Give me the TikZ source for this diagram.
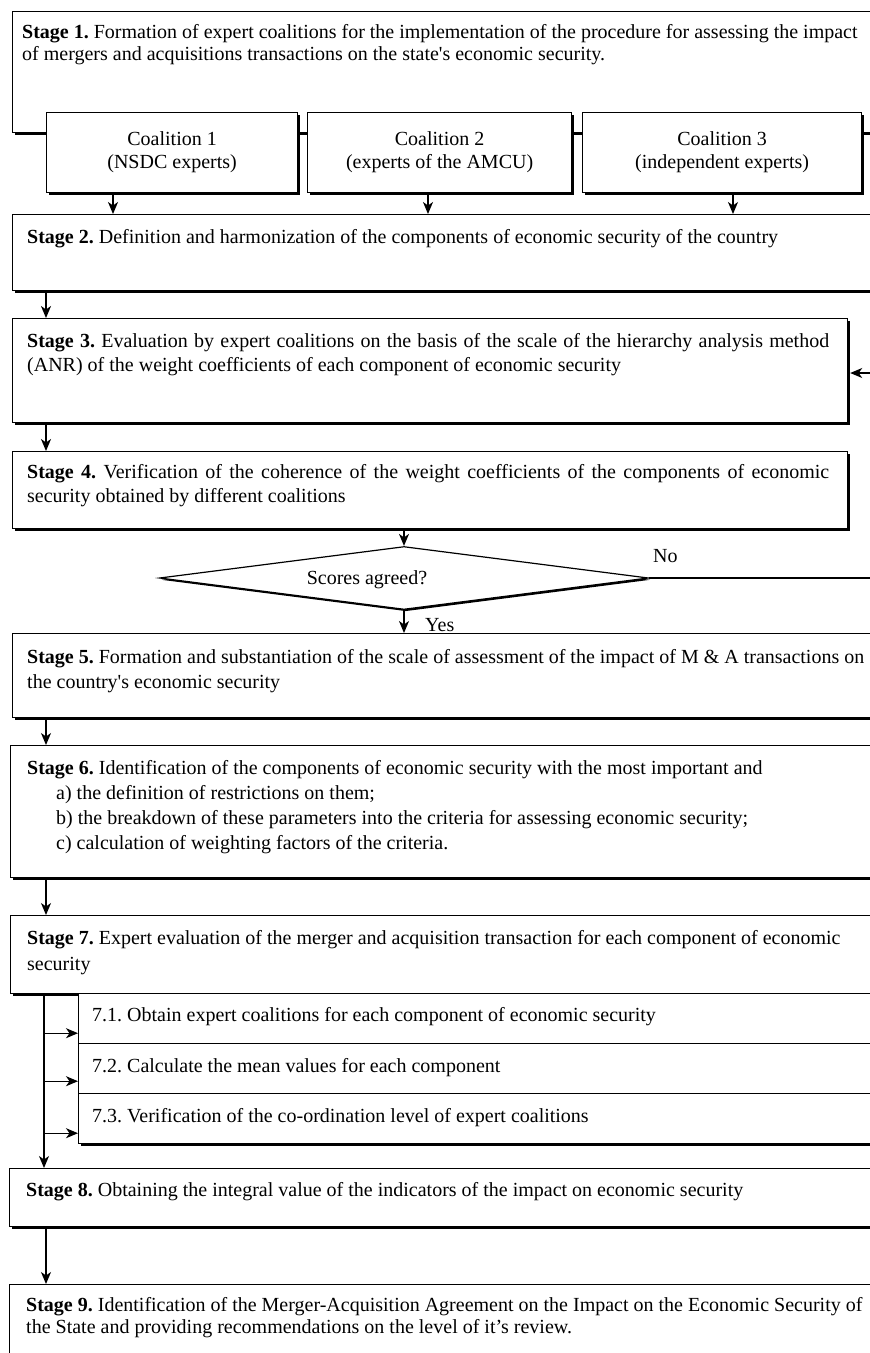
\documentclass[tikz,border=0pt]{standalone}
\usepackage{fontspec}
\setmainfont{Liberation Serif}
\usetikzlibrary{shapes.geometric,shadows,arrows.meta,calc}
\begin{document}
\frenchspacing
\begin{tikzpicture}[x=1pt,y=-1pt,
  font=\fontsize{20}{24}\selectfont,
  bx/.style={draw=black, fill=white, line width=1.2pt, inner sep=0pt, anchor=north west,
    drop shadow={shadow xshift=2.2pt, shadow yshift=-2.2pt, opacity=1, fill=black}},
  txt/.style={anchor=base west, inner sep=0pt, align=left},
  arr/.style={line width=1.2pt, -{Stealth[length=12pt,width=10pt,inset=3.5pt]}}
]
\useasboundingbox (0,0) rectangle (870,1353);
\clip (0,0) rectangle (870,1353);
\fill[white] (0,0) rectangle (870,1353);

% Stage 1 and coalitions (multi-line text nodes are placed by their last baseline)
\node[bx, minimum width=873pt, minimum height=121pt] (S1) at (12,11) {};
\node[txt, font=\fontsize{20}{22}\selectfont] (t1) at (22,60) {\textbf{Stage 1.} Formation of expert coalitions for the implementation of the procedure for assessing the impact\\of mergers and acquisitions transactions on the state\textquotesingle s economic security.};
\node[bx, minimum width=251pt, minimum height=80pt, align=center, font=\fontsize{20}{23}\selectfont] (C1) at (46,112) {Coalition 1\\(NSDC experts)};
\node[bx, minimum width=264pt, minimum height=80pt, align=center, font=\fontsize{20}{23}\selectfont] (C2) at (307,112) {Coalition 2\\(experts of the AMCU)};
\node[bx, minimum width=279pt, minimum height=80pt, align=center, font=\fontsize{20}{23}\selectfont] (C3) at (582,112) {Coalition 3\\(independent experts)};

% Stage 2
\node[bx, minimum width=873pt, minimum height=76pt] (S2) at (12,214) {};
\node[txt] (t2) at (27,243) {\textbf{Stage 2.} Definition and harmonization of the components of economic security of the country};

% Stage 3
\node[bx, minimum width=835pt, minimum height=104pt] (S3) at (12,318) {};
\node[txt] (t3) at (27,371) {\makebox[802pt][s]{\textbf{Stage 3.} Evaluation by expert coalitions on the basis of the scale of the hierarchy analysis method}\\(ANR) of the weight coefficients of each component of economic security};

% Stage 4
\node[bx, minimum width=835pt, minimum height=77pt] (S4) at (12,451) {};
\node[txt] (t4) at (27,502) {\makebox[802pt][s]{\textbf{Stage 4.} Verification of the coherence of the weight coefficients of the components of economic}\\security obtained by different coalitions};

% Decision
\node[diamond, draw=black, fill=white, line width=1.2pt, minimum width=489pt, minimum height=63pt, inner sep=0pt,
  drop shadow={shadow xshift=1.8pt, shadow yshift=-1.8pt, opacity=1, fill=black}] (D) at (404,578) {};
\node[anchor=base, inner sep=0pt] (tD) at (367,584) {Scores agreed?};
\node[txt] (tNo) at (653,562) {No};
\node[txt] (tYes) at (425,631) {Yes};

% Stage 5
\node[bx, minimum width=873pt, minimum height=84pt] (S5) at (12,633) {};
\node[txt, font=\fontsize{20}{25}\selectfont] (t5) at (27,688) {\textbf{Stage 5.} Formation and substantiation of the scale of assessment of the impact of M \& A transactions on\\the country\textquotesingle s economic security};

% Stage 6
\node[bx, minimum width=875pt, minimum height=132pt] (S6) at (10,745) {};
\node[txt, font=\fontsize{20}{25}\selectfont] (t6) at (27,849) {\textbf{Stage 6.} Identification of the components of economic security with the most important and\\\hspace*{29pt}a) the definition of restrictions on them;\\\hspace*{29pt}b) the breakdown of these parameters into the criteria for assessing economic security;\\\hspace*{29pt}c) calculation of weighting factors of the criteria.};

% Stage 7
\node[bx, minimum width=875pt, minimum height=78pt] (S7) at (10,915) {};
\node[txt, font=\fontsize{20}{26}\selectfont] (t7) at (27,970) {\textbf{Stage 7.} Expert evaluation of the merger and acquisition transaction for each component of economic\\security};

\node[bx, minimum width=807pt, minimum height=50pt] (P1) at (78,993) {};
\node[txt] (tp1) at (92,1021) {7.1. Obtain expert coalitions for each component of economic security};
\node[bx, minimum width=807pt, minimum height=50pt] (P2) at (78,1043) {};
\node[txt] (tp2) at (92,1072) {7.2. Calculate the mean values for each component};
\node[bx, minimum width=807pt, minimum height=50pt] (P3) at (78,1093) {};
\node[txt] (tp3) at (92,1122) {7.3. Verification of the co-ordination level of expert coalitions};

% Stage 8
\node[bx, minimum width=876pt, minimum height=58pt] (S8) at (9,1168) {};
\node[txt] (t8) at (26,1196) {\textbf{Stage 8.} Obtaining the integral value of the indicators of the impact on economic security};

% Stage 9
\node[bx, minimum width=876pt, minimum height=90pt] (S9) at (9,1284) {};
\node[txt, font=\fontsize{20}{22.5}\selectfont] (t9) at (26,1333.5) {\textbf{Stage 9.} Identification of the Merger-Acquisition Agreement on the Impact on the Economic Security of\\the State and providing recommendations on the level of it’s review.};

% Connectors
\coordinate (a1) at ([xshift=67pt]C1.south west);
\coordinate (a2) at ([xshift=121pt]C2.south west);
\coordinate (a3) at ([xshift=151pt]C3.south west);
\draw[arr] (a1) -- (a1 |- S2.north);
\draw[arr] (a2) -- (a2 |- S2.north);
\draw[arr] (a3) -- (a3 |- S2.north);

\coordinate (b2) at ([xshift=34pt]S2.south west);
\draw[arr] (b2) -- (b2 |- S3.north);
\coordinate (b3) at ([xshift=34pt]S3.south west);
\draw[arr] (b3) -- (b3 |- S4.north);
\draw[arr] (D.north |- S4.south) -- (D.north);
\draw[arr] (D.south) -- (D.south |- S5.north);
\coordinate (L) at (880,373);
\draw[arr] (D.east) -| (L) -- ([xshift=2pt]L -| S3.east);

\coordinate (b5) at ([xshift=34pt]S5.south west);
\draw[arr] (b5) -- (b5 |- S6.north);
\coordinate (b6) at ([xshift=36pt]S6.south west);
\draw[arr] (b6) -- (b6 |- S7.north);

\coordinate (tr) at ([xshift=34pt]S7.south west);
\draw[arr] (tr) -- (tr |- S8.north);
\coordinate (q1) at ([yshift=11pt]P1.south west);
\coordinate (q2) at ([yshift=13pt]P2.south west);
\coordinate (q3) at ([yshift=11pt]P3.south west);
\draw[arr] (tr |- q1) -- (q1);
\draw[arr] (tr |- q2) -- (q2);
\draw[arr] (tr |- q3) -- (q3);

\coordinate (b8) at ([xshift=37pt]S8.south west);
\draw[arr] (b8) -- (b8 |- S9.north);
\end{tikzpicture}
\end{document}
